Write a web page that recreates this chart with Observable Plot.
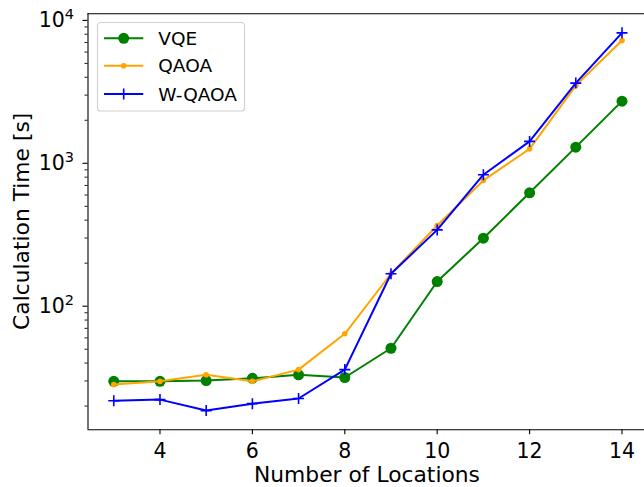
<!DOCTYPE html>
<html><head><meta charset="utf-8">
<script src="https://cdn.jsdelivr.net/npm/d3@7"></script>
<script src="https://cdn.jsdelivr.net/npm/@observablehq/plot@0.6"></script>
<style>body{margin:0;background:#fff} svg{display:block}</style>
</head><body><div id="chart"></div>
<script>
const locations = [3, 4, 5, 6, 7, 8, 9, 10, 11, 12, 13, 14];
const vqe   = [29.8, 29.8, 30.2, 31.3, 33.1, 31.7, 50.8, 148.8, 299, 622, 1297, 2722];
const qaoa  = [28.3, 29.8, 33.1, 29.8, 36.0, 64.1, 168.7, 367, 759, 1262, 3500, 7230];
const wqaoa = [21.8, 22.2, 18.6, 20.8, 22.6, 36.0, 168.7, 342, 832, 1423, 3640, 8180];
const seriesNames = ["VQE", "QAOA", "W-QAOA"];
const seriesColors = ["green", "orange", "blue"];
const xTicks = [4, 6, 8, 10, 12, 14];
const yMajorTicks = [100, 1000, 10000];
const yMinorTicks = [20, 30, 40, 50, 60, 70, 80, 90, 200, 300, 400, 500, 600, 700, 800, 900, 2000, 3000, 4000, 5000, 6000, 7000, 8000, 9000];
const xLabel = "Number of Locations";
const yLabel = "Calculation Time [s]";

const seriesValues = [vqe, qaoa, wqaoa];
const rows = [];
seriesNames.forEach((name, i) => {
  locations.forEach((x, j) => rows.push({series: name, x, y: seriesValues[i][j]}));
});
const byName = n => rows.filter(d => d.series === n);

const W = 644, H = 487;
const mL = 87.5, mT = 13.3, mB = 57.7, mR = 0;
const xDom = [2.442, 14.487];
const yDom = [13.65, 11120];

const plusSymbol = {
  draw(ctx, size) {
    const r = Math.sqrt(size / Math.PI);
    ctx.moveTo(-r, 0); ctx.lineTo(r, 0);
    ctx.moveTo(0, -r); ctx.lineTo(0, r);
  }
};

const chart = Plot.plot({
  width: W, height: H,
  marginLeft: mL, marginRight: mR, marginTop: mT, marginBottom: mB,
  style: {fontFamily: "DejaVu Sans", fontSize: "20px", color: "black", background: "white"},
  x: {domain: xDom, axis: null},
  y: {type: "log", domain: yDom, axis: null},
  marks: [
    Plot.axisX({ticks: xTicks, tickSize: 5, tickPadding: 9, fontSize: 20.5, tickFormat: d => String(d), strokeWidth: 1.1, label: null}),
    Plot.axisY({ticks: yMajorTicks, tickSize: 5, tickPadding: 9, fontSize: 20.5, tickFormat: d => String(Math.round(Math.log10(d))), strokeWidth: 1.1, label: null}),
    Plot.axisY({ticks: yMinorTicks, tickSize: 3, tickFormat: () => "", strokeWidth: 0.9, label: null}),
    Plot.lineY(byName("VQE"), {x: "x", y: "y", stroke: seriesColors[0], strokeWidth: 2}),
    Plot.dot(byName("VQE"), {x: "x", y: "y", fill: seriesColors[0], r: 5.5}),
    Plot.lineY(byName("QAOA"), {x: "x", y: "y", stroke: seriesColors[1], strokeWidth: 2}),
    Plot.dot(byName("QAOA"), {x: "x", y: "y", fill: seriesColors[1], r: 2.8}),
    Plot.lineY(byName("W-QAOA"), {x: "x", y: "y", stroke: seriesColors[2], strokeWidth: 2}),
    Plot.dot(byName("W-QAOA"), {x: "x", y: "y", stroke: seriesColors[2], fill: "none", symbol: plusSymbol, r: 5.5, strokeWidth: 1.6}),
    Plot.ruleX([xDom[0]], {stroke: "black", strokeWidth: 1.1}),
    Plot.ruleY([yDom[0], yDom[1]], {stroke: "black", strokeWidth: 1.1})
  ]
});

document.getElementById("chart").appendChild(chart);
const svg = d3.select(chart);

// superscript exponents on the y tick labels
svg.selectAll('g[aria-label="y-axis tick label"] text').each(function() {
  const t = d3.select(this);
  const exp = t.text();
  if (!exp) return;
  t.text(null);
  t.append("tspan").text("10");
  t.append("tspan").attr("dy", "-0.55em").attr("font-size", "14.5px").text(exp);
});

// axis labels
svg.append("text")
  .attr("x", (mL + 646.5) / 2).attr("y", 482)
  .attr("text-anchor", "middle")
  .attr("font-family", "DejaVu Sans").attr("font-size", "21.8px").attr("fill", "black")
  .text(xLabel);
svg.append("text")
  .attr("transform", `translate(29,${(mT + (H - mB)) / 2}) rotate(-90)`)
  .attr("text-anchor", "middle")
  .attr("font-family", "DejaVu Sans").attr("font-size", "21.8px").attr("fill", "black")
  .text(yLabel);

// legend
const lg = svg.append("g");
lg.append("rect").attr("x", 97.5).attr("y", 22.5).attr("width", 147).attr("height", 88.5)
  .attr("rx", 3).attr("fill", "white").attr("fill-opacity", 0.8)
  .attr("stroke", "#d0d0d0").attr("stroke-width", 1.1);
const rowY = [38.3, 65.7, 94];
seriesNames.forEach((name, i) => {
  const y = rowY[i];
  lg.append("line").attr("x1", 104).attr("x2", 143.3).attr("y1", y).attr("y2", y)
    .attr("stroke", seriesColors[i]).attr("stroke-width", 2);
  if (i === 0) lg.append("circle").attr("cx", 123.7).attr("cy", y).attr("r", 5.5).attr("fill", seriesColors[i]);
  if (i === 1) lg.append("circle").attr("cx", 123.7).attr("cy", y).attr("r", 2.8).attr("fill", seriesColors[i]);
  if (i === 2) lg.append("path").attr("d", `M${123.7-5.5},${y}H${123.7+5.5}M123.7,${y-5.5}V${y+5.5}`)
    .attr("stroke", seriesColors[i]).attr("stroke-width", 1.6);
  lg.append("text").attr("x", 158.3).attr("y", y).attr("dy", "0.36em")
    .attr("text-anchor", "start")
    .attr("font-family", "DejaVu Sans").attr("font-size", "18.5px").attr("fill", "black")
    .text(name);
});
</script>
</body></html>
